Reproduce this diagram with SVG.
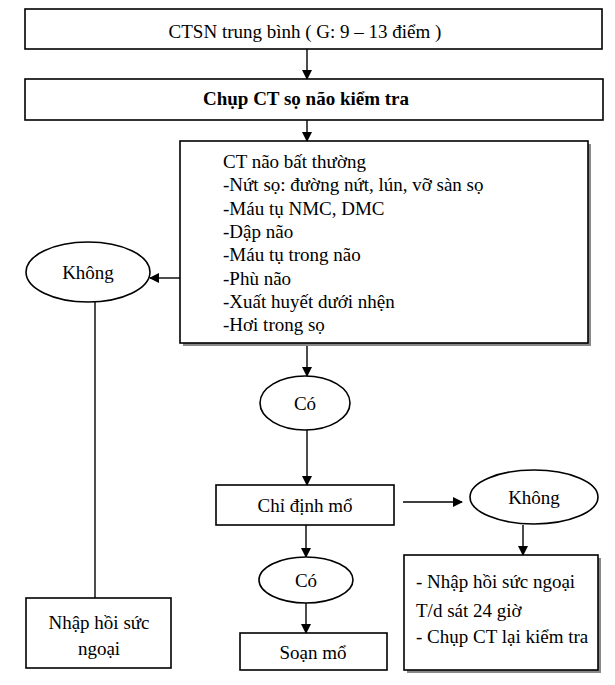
<svg xmlns="http://www.w3.org/2000/svg" width="615" height="685" viewBox="0 0 615 685">
<style>
.box{fill:#fff;stroke:#000;stroke-width:1.6}
.sh{fill:#888;stroke:none}
.t{font-family:"Liberation Serif","Times New Roman",serif;font-size:19px;fill:#000}
.c{text-anchor:middle}
.b{font-weight:bold}
.ln{stroke:#000;stroke-width:1.4;fill:none}
</style>
<defs>
<marker id="ah" markerWidth="10" markerHeight="10" refX="9" refY="5" orient="auto" markerUnits="userSpaceOnUse">
<path d="M0,0 L10,5 L0,10 z" fill="#000"/>
</marker>
</defs>
<g id="connectors">
<line class="ln" x1="307" y1="49" x2="307" y2="79" marker-end="url(#ah)"/>
<line class="ln" x1="307" y1="120" x2="307" y2="141" marker-end="url(#ah)"/>
<line class="ln" x1="180" y1="278" x2="150" y2="278" marker-end="url(#ah)"/>
<line class="ln" x1="95" y1="302" x2="95" y2="598"/>
<line class="ln" x1="307" y1="343" x2="307" y2="376" marker-end="url(#ah)"/>
<line class="ln" x1="307" y1="430" x2="307" y2="485" marker-end="url(#ah)"/>
<line class="ln" x1="403" y1="502" x2="462" y2="502" marker-end="url(#ah)"/>
<line class="ln" x1="306" y1="525" x2="306" y2="557" marker-end="url(#ah)"/>
<line class="ln" x1="306" y1="603" x2="306" y2="633" marker-end="url(#ah)"/>
<line class="ln" x1="523" y1="525" x2="523" y2="555" marker-end="url(#ah)"/>
</g>
<g id="n-ctsn">
<rect class="box" x="25" y="9" width="577" height="40"/>
<text class="t c" x="305" y="38">CTSN trung bình ( G: 9 – 13 điểm )</text>
</g>
<g id="n-chup">
<rect class="box" x="25" y="79" width="578" height="41"/>
<text class="t c b" x="306" y="105">Chụp CT sọ não kiểm tra</text>
</g>
<g id="n-ct">
<rect class="sh" x="183" y="144" width="408" height="202"/>
<rect class="box" x="180" y="141" width="408" height="202"/>
<text class="t" x="223" y="168">CT não bất thường</text>
<text class="t" x="223" y="191">-Nứt sọ: đường nứt, lún, vỡ sàn sọ</text>
<text class="t" x="223" y="215">-Máu tụ NMC, DMC</text>
<text class="t" x="223" y="238">-Dập não</text>
<text class="t" x="223" y="261">-Máu tụ trong não</text>
<text class="t" x="223" y="285">-Phù não</text>
<text class="t" x="223" y="308">-Xuất huyết dưới nhện</text>
<text class="t" x="223" y="331">-Hơi trong sọ</text>
</g>
<g id="n-khong1">
<ellipse class="box" cx="88" cy="272" rx="62" ry="30"/>
<text class="t c" x="88" y="279">Không</text>
</g>
<g id="n-nhap1">
<rect class="box" x="26" y="598" width="145" height="70"/>
<text class="t c" x="99" y="629">Nhập hồi sức</text>
<text class="t c" x="99" y="655">ngoại</text>
</g>
<g id="n-co1">
<ellipse class="box" cx="305" cy="403" rx="45" ry="27"/>
<text class="t c" x="305" y="410">Có</text>
</g>
<g id="n-chidinh">
<rect class="box" x="216" y="485" width="178" height="40"/>
<text class="t c" x="305" y="512">Chỉ định mổ</text>
</g>
<g id="n-khong2">
<ellipse class="box" cx="534" cy="497" rx="64" ry="27"/>
<text class="t c" x="534" y="504">Không</text>
</g>
<g id="n-co2">
<ellipse class="box" cx="306" cy="580" rx="47" ry="23"/>
<text class="t c" x="306" y="587">Có</text>
</g>
<g id="n-soan">
<rect class="box" x="240" y="633" width="147" height="37"/>
<text class="t c" x="313" y="659">Soạn mổ</text>
</g>
<g id="n-nhap2">
<rect class="sh" x="407" y="558" width="194" height="115"/>
<rect class="box" x="404" y="555" width="194" height="115"/>
<text class="t" x="416" y="588">- Nhập hồi sức ngoại</text>
<text class="t" x="416" y="617">T/d sát 24 giờ</text>
<text class="t" x="416" y="643">- Chụp CT lại kiểm tra</text>
</g>
</svg>
